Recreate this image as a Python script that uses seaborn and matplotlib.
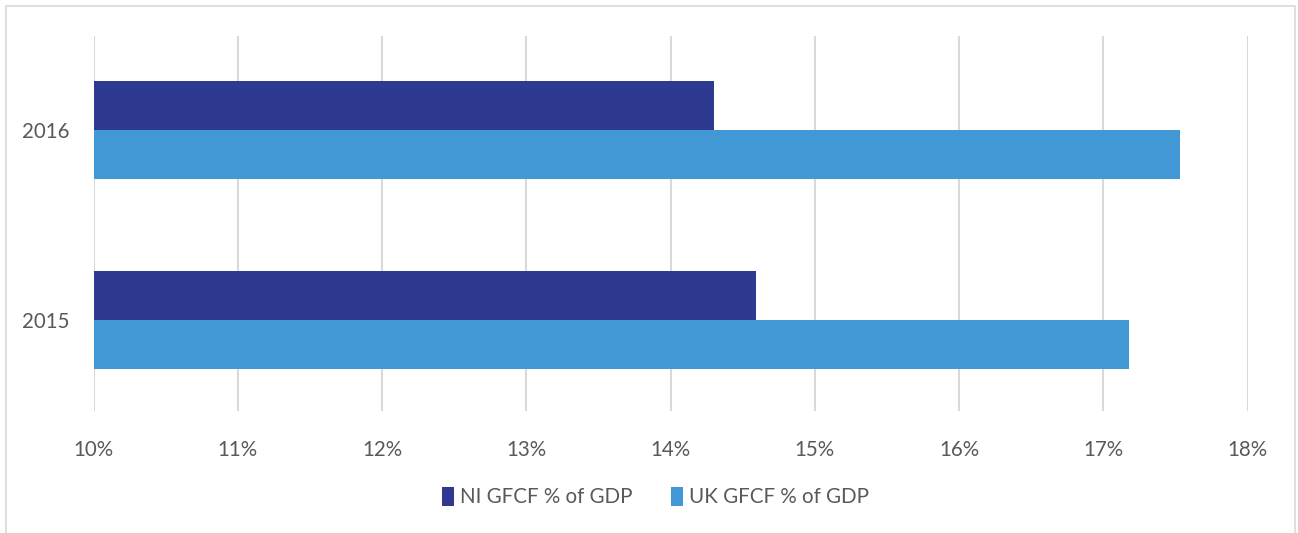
import matplotlib
matplotlib.use("Agg")
import matplotlib.pyplot as plt
import matplotlib.patches as mpatches
import seaborn as sns
import pandas as pd

years = ["2016", "2015"]
series = ["NI GFCF % of GDP", "UK GFCF % of GDP"]
ni_values = [14.30, 14.59]
uk_values = [17.53, 17.18]
x_ticks = [10, 11, 12, 13, 14, 15, 16, 17, 18]
x_tick_labels = [f"{t}%" for t in x_ticks]
colors = ["#2E3A8F", "#4198D4"]

df = pd.DataFrame({
    "Year": years * 2,
    "Series": [series[0]] * len(years) + [series[1]] * len(years),
    "Value": ni_values + uk_values,
})

sns.set_theme(style="white")
plt.rcParams["font.family"] = ["Lato", "DejaVu Sans"]

fig = plt.figure(figsize=(12.98, 5.33), dpi=100)
W, H = 1298, 533
left, right, top, bottom = 93.5, 1247.5, 36, 411
ax = fig.add_axes([left / W, 1 - bottom / H, (right - left) / W, (bottom - top) / H])

sns.barplot(data=df, y="Year", x="Value", hue="Series", order=years,
            hue_order=series, palette=colors, orient="h", width=0.516,
            gap=0, saturation=1, ax=ax, legend=True, errorbar=None,
            linewidth=0)

ax.set_xlim(10, 18)
ax.set_ylim(1.479, -0.495)
ax.set_xticks(x_ticks)
ax.set_xticklabels(x_tick_labels)
ax.grid(axis="x", color="#D9D9D9", linewidth=1.5)
ax.set_axisbelow(True)
for s in ax.spines.values():
    s.set_visible(False)
ax.tick_params(axis="both", length=0, colors="#595959", labelsize=14.8)
ax.tick_params(axis="x", pad=21)
ax.tick_params(axis="y", pad=17)
ax.set_xlabel("")
ax.set_ylabel("")

handles, labels = ax.get_legend_handles_labels()
ax.legend(handles, labels, loc="center", bbox_to_anchor=(0.505, 1 - 497 / H),
          bbox_transform=fig.transFigure, ncol=2, frameon=False,
          handlelength=0.55, handleheight=1.05, handletextpad=0.3,
          columnspacing=1.9, fontsize=14.8, labelcolor="#595959")

fig.patches.append(mpatches.Rectangle((5.5 / W, -0.02), (1295 - 5.5) / W, 1 - 6 / H + 0.02,
                                      transform=fig.transFigure, fill=False,
                                      edgecolor="#D9D9D9", linewidth=1.2))

fig.savefig("out.png", dpi=100)
